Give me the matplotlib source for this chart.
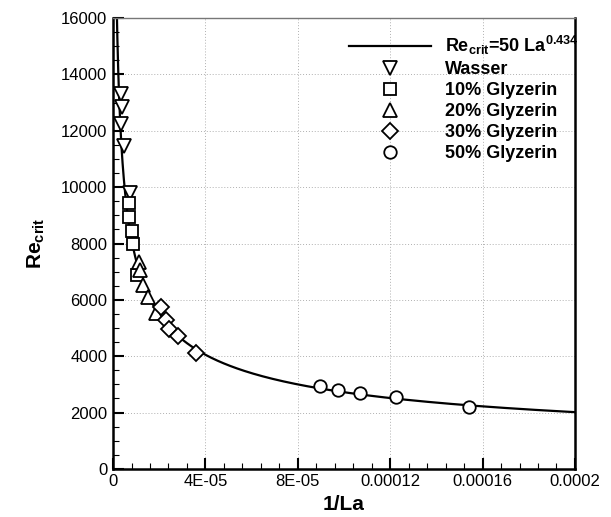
import numpy as np
import matplotlib
matplotlib.use("Agg")
import matplotlib.pyplot as plt
from matplotlib.ticker import MultipleLocator, FixedLocator

plt.rcParams['font.family'] = ['Liberation Sans', 'DejaVu Sans']
plt.rcParams['mathtext.fontset'] = 'custom'
plt.rcParams['mathtext.rm'] = 'Liberation Sans:bold'
plt.rcParams['mathtext.bf'] = 'Liberation Sans:bold'
plt.rcParams['mathtext.it'] = 'Liberation Sans:bold'

# Data
wasser_x = [3.4e-6, 3.7e-6, 3.6e-6, 4.6e-6, 7.4e-6]
wasser_y = [13300, 12850, 12250, 11450, 9800]
g10_x = [6.9e-6, 7.1e-6, 8.1e-6, 8.8e-6, 1.03e-5]
g10_y = [9450, 8950, 8450, 7980, 6880]
g20_x = [1.14e-5, 1.17e-5, 1.29e-5, 1.50e-5, 1.84e-5]
g20_y = [7350, 7060, 6530, 6110, 5530]
g30_x = [2.08e-5, 2.28e-5, 2.44e-5, 2.83e-5, 3.58e-5]
g30_y = [5750, 5300, 4950, 4720, 4100]
g50_x = [8.97e-5, 9.74e-5, 1.07e-4, 1.226e-4, 1.543e-4]
g50_y = [2950, 2800, 2700, 2540, 2180]

fit_coef = 50
fit_exp = 0.434

xticks = [0, 4e-5, 8e-5, 1.2e-4, 1.6e-4, 2e-4]
xticklabels = ['0', '4E-05', '8E-05', '0.00012', '0.00016', '0.0002']
yticks = [0, 2000, 4000, 6000, 8000, 10000, 12000, 14000, 16000]

fig = plt.figure(figsize=(6.11, 5.17), dpi=100)
ax = fig.add_axes([0.185, 0.093, 0.756, 0.872])

xf = np.logspace(np.log10(1.5e-6), np.log10(2e-4), 600)
yf = fit_coef * (1.0 / xf) ** fit_exp
ax.plot(xf, yf, color='black', lw=1.6, label=r'Re$_{\mathbf{crit}}$=50 La$^{\mathbf{0.434}}$', zorder=2)

mk = dict(linestyle='none', markerfacecolor='white', markeredgecolor='black',
          markeredgewidth=1.3, markersize=9.5, zorder=3)
ax.plot(wasser_x, wasser_y, marker='v', label='Wasser', **mk)
ax.plot(g10_x, g10_y, marker='s', label='10% Glyzerin', **{**mk, 'markersize': 8.5})
ax.plot(g20_x, g20_y, marker='^', label='20% Glyzerin', **mk)
ax.plot(g30_x, g30_y, marker='D', label='30% Glyzerin', **{**mk, 'markersize': 8})
ax.plot(g50_x, g50_y, marker='o', label='50% Glyzerin', **{**mk, 'markersize': 9})

ax.set_xlim(0, 2e-4)
ax.set_ylim(0, 16000)
ax.xaxis.set_major_locator(FixedLocator(xticks))
ax.set_xticklabels(xticklabels)
ax.xaxis.set_minor_locator(MultipleLocator(8e-6))
ax.yaxis.set_major_locator(FixedLocator(yticks))
ax.yaxis.set_minor_locator(MultipleLocator(500))

ax.grid(True, which='major', color='#b0b0b0', linestyle=(0, (1, 2)), linewidth=0.7)
ax.tick_params(which='major', direction='in', length=8, width=1.5, labelsize=12, colors='black', pad=4)
ax.tick_params(which='minor', direction='in', length=4, width=0.8)
ax.tick_params(top=False, right=False, which='both')
for s in ax.spines.values():
    s.set_linewidth(1.8)
    s.set_color('black')
ax.spines['top'].set_color('#777777')
ax.spines['top'].set_linewidth(1.0)

ax.set_xlabel('1/La', fontsize=15, fontweight='bold', labelpad=4)
ax.set_ylabel(r'Re$_{\mathbf{crit}}$', fontsize=15, fontweight='bold', labelpad=10)

leg = ax.legend(loc='upper right', frameon=False, prop={'size': 13, 'weight': 'bold'},
                handlelength=4.5, handletextpad=0.8, labelspacing=0.22,
                borderaxespad=0.5, bbox_to_anchor=(1.043, 1.0))

fig.savefig('out.png', dpi=100)
